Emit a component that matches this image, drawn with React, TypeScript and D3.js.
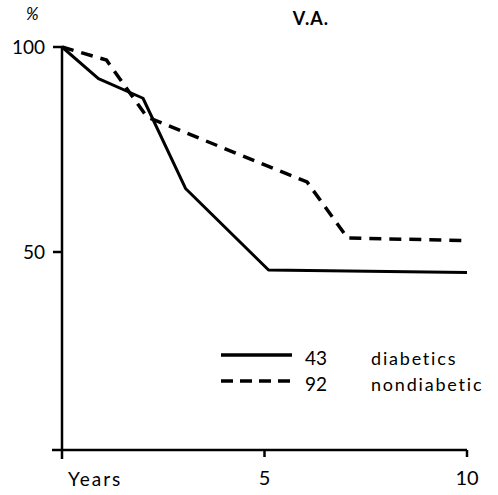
import React, { useRef, useEffect } from 'react';
import * as d3 from 'd3';

// survival curves
const diabeticYears = [0, 0.9, 2, 3.05, 5.1, 10];
const diabeticPct = [100, 92.3, 87.5, 65.5, 45.6, 45];
const nondiabeticYears = [0, 1.1, 2.1, 6.05, 7.05, 10];
const nondiabeticPct = [100, 96.8, 82.9, 67.1, 53.4, 52.8];

const xTicks = [5, 10];
const yTicks = [50, 100];
const legendRows = [
  { n: '43', label: 'diabetics', dash: null },
  { n: '92', label: 'nondiabetic', dash: '12,7' },
];

const FONT = 'Lato, "Open Sans", sans-serif';

const App = () => {
  const svgRef = useRef<SVGSVGElement>(null);

  useEffect(() => {
    const svg = d3.select(svgRef.current);
    svg.selectAll('*').remove();

    const x = d3.scaleLinear().domain([0, 10]).range([62, 467]);
    const y = d3.scaleLinear().domain([0, 100]).range([457, 47]);
    const axisY = 450;

    // axes
    svg.append('line')
      .attr('x1', x(0)).attr('x2', x(0))
      .attr('y1', y(100)).attr('y2', axisY + 9)
      .attr('stroke', '#000').attr('stroke-width', 2.5);
    svg.append('line')
      .attr('x1', x(0) - 10).attr('x2', x(10))
      .attr('y1', axisY).attr('y2', axisY)
      .attr('stroke', '#000').attr('stroke-width', 2.5);

    yTicks.forEach(t => {
      svg.append('line')
        .attr('x1', x(0) - 9).attr('x2', x(0))
        .attr('y1', y(t)).attr('y2', y(t))
        .attr('stroke', '#000').attr('stroke-width', 2.5);
      svg.append('text')
        .attr('x', x(0) - 17).attr('y', y(t) + 7)
        .attr('text-anchor', 'end')
        .attr('font-family', FONT).attr('font-size', 19)
        .text(t);
    });

    xTicks.forEach(t => {
      svg.append('line')
        .attr('x1', x(t)).attr('x2', x(t))
        .attr('y1', axisY).attr('y2', axisY + 7)
        .attr('stroke', '#000').attr('stroke-width', 2.5);
      svg.append('text')
        .attr('x', x(t)).attr('y', axisY + 35)
        .attr('text-anchor', 'middle')
        .attr('font-family', FONT).attr('font-size', 20)
        .text(t);
    });

    svg.append('text')
      .attr('x', 68).attr('y', axisY + 36)
      .attr('font-family', FONT).attr('font-size', 19)
      .attr('letter-spacing', 2)
      .text('Years');

    svg.append('text')
      .attr('x', 26).attr('y', 20)
      .attr('font-family', FONT).attr('font-size', 17).attr('font-style', 'italic')
      .text('%');

    svg.append('text')
      .attr('x', 311).attr('y', 25)
      .attr('text-anchor', 'middle')
      .attr('font-family', FONT).attr('font-size', 18).attr('font-weight', 'bold')
      .attr('letter-spacing', 1)
      .text('V.A.');

    const line = d3.line<[number, number]>().x(d => x(d[0])).y(d => y(d[1]));

    svg.append('path')
      .datum(diabeticYears.map((v, i) => [v, diabeticPct[i]] as [number, number]))
      .attr('d', line)
      .attr('fill', 'none').attr('stroke', '#000').attr('stroke-width', 3)
      .attr('stroke-linejoin', 'round');

    svg.append('path')
      .datum(nondiabeticYears.map((v, i) => [v, nondiabeticPct[i]] as [number, number]))
      .attr('d', line)
      .attr('fill', 'none').attr('stroke', '#000').attr('stroke-width', 3.5)
      .attr('stroke-dasharray', '12,8');

    // legend
    legendRows.forEach((r, i) => {
      const ly = 355 + i * 26;
      const l = svg.append('line')
        .attr('x1', 221).attr('x2', 292)
        .attr('y1', ly).attr('y2', ly)
        .attr('stroke', '#000').attr('stroke-width', 3.5);
      if (r.dash) l.attr('stroke-dasharray', r.dash);
      svg.append('text')
        .attr('x', 305).attr('y', ly + 10)
        .attr('font-family', FONT).attr('font-size', 19)
        .text(r.n);
      svg.append('text')
        .attr('x', 371).attr('y', ly + 10)
        .attr('font-family', FONT).attr('font-size', 18)
        .attr('letter-spacing', 1.8)
        .text(r.label);
    });
  }, []);

  return (
    <svg ref={svgRef} width={498} height={495}
      style={{ position: 'absolute', left: 0, top: 0, background: '#fff' }} />
  );
};

export default App;
